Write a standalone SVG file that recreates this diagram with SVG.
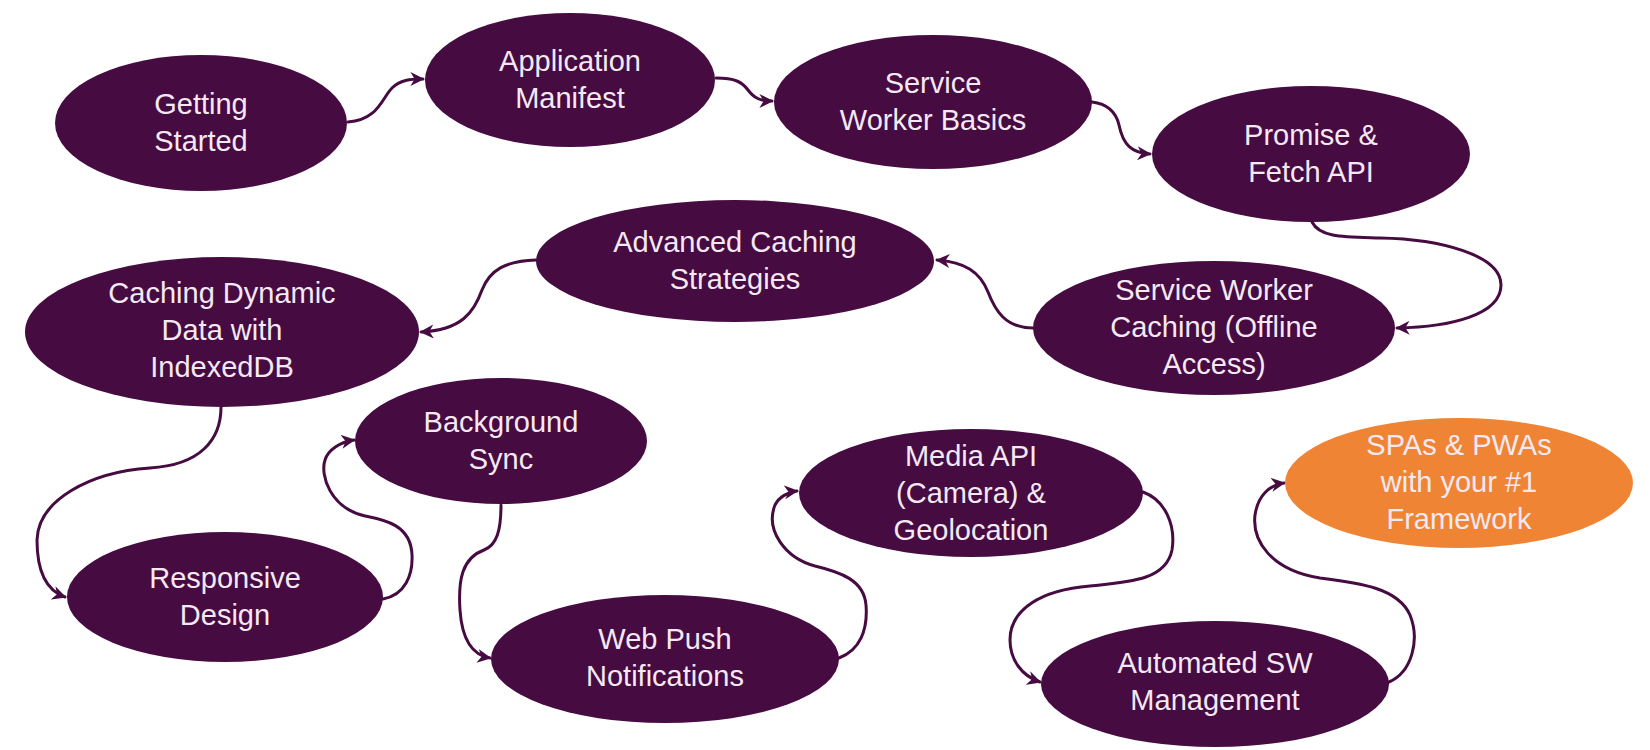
<svg xmlns="http://www.w3.org/2000/svg" width="1650" height="750" viewBox="0 0 1650 750">
<style>
.n{fill:#460b41}
.o{fill:#ef8534}
.t{font-family:"Liberation Sans",Arial,sans-serif;font-size:29px;fill:#f4e9f3;text-anchor:middle}
.c{fill:none;stroke:#460b41;stroke-width:3;stroke-linecap:round}
</style>
<defs>
<marker id="ah" viewBox="0 0 10 10" refX="9" refY="5" markerWidth="14" markerHeight="14" markerUnits="userSpaceOnUse" orient="auto">
<path d="M0,0 L10,5 L0,10 L3,5 Z" fill="#460b41"/>
</marker>
</defs>
<rect width="1650" height="750" fill="#ffffff"/>
<g id="connectors">
<path class="c" marker-end="url(#ah)" d="M348,122 C378,120 382,98 392,88 C400,80 410,79 423,79"/>
<path class="c" marker-end="url(#ah)" d="M716,78 C735,78 742,82 748,90 C754,98 760,101 772,101"/>
<path class="c" marker-end="url(#ah)" d="M1092,102 C1108,104 1116,112 1119,125 C1123,145 1132,153 1150,154"/>
<path class="c" marker-end="url(#ah)" d="M1312,222 C1320,238 1345,237 1380,238 C1440,239 1501,255 1501,285 C1501,315 1450,327 1397,328"/>
<path class="c" marker-end="url(#ah)" d="M1033,328 C1005,328 995,310 988,292 C980,272 965,262 937,260"/>
<path class="c" marker-end="url(#ah)" d="M536,260 C505,261 490,270 482,290 C474,312 462,330 421,332"/>
<path class="c" marker-end="url(#ah)" d="M221,407 C221,440 200,465 150,468 C90,472 38,500 37,540 C37,570 45,590 65,597"/>
<path class="c" marker-end="url(#ah)" d="M383,599 C405,595 413,575 412,555 C411,525 385,520 365,516 C330,508 320,475 325,460 C328,450 340,442 354,440"/>
<path class="c" marker-end="url(#ah)" d="M501,505 C501,530 497,545 484,550 C462,558 458,580 460,610 C462,640 472,655 490,658"/>
<path class="c" marker-end="url(#ah)" d="M839,658 C860,650 868,630 866,605 C864,580 840,572 815,566 C785,558 765,530 775,505 C779,497 788,492 797,491"/>
<path class="c" marker-end="url(#ah)" d="M1143,492 C1165,500 1176,525 1172,550 C1166,580 1130,582 1090,586 C1040,590 1010,610 1010,640 C1010,660 1022,676 1040,682"/>
<path class="c" marker-end="url(#ah)" d="M1389,682 C1412,672 1420,640 1410,615 C1398,588 1360,583 1320,578 C1270,570 1252,540 1255,515 C1258,495 1270,485 1284,483"/>
</g>
<g id="getting-started"><ellipse class="n" cx="201" cy="123" rx="146" ry="68"/><text class="t" x="201" y="114">Getting</text><text class="t" x="201" y="151">Started</text></g>
<g id="application-manifest"><ellipse class="n" cx="570" cy="80" rx="145" ry="67"/><text class="t" x="570" y="71">Application</text><text class="t" x="570" y="108">Manifest</text></g>
<g id="service-worker-basics"><ellipse class="n" cx="933" cy="102" rx="159" ry="67"/><text class="t" x="933" y="93">Service</text><text class="t" x="933" y="130">Worker Basics</text></g>
<g id="promise-fetch"><ellipse class="n" cx="1311" cy="154" rx="159" ry="68"/><text class="t" x="1311" y="145">Promise &amp;</text><text class="t" x="1311" y="182">Fetch API</text></g>
<g id="sw-caching"><ellipse class="n" cx="1214" cy="328" rx="181" ry="67"/><text class="t" x="1214" y="300">Service Worker</text><text class="t" x="1214" y="337">Caching (Offline</text><text class="t" x="1214" y="374">Access)</text></g>
<g id="advanced-caching"><ellipse class="n" cx="735" cy="261" rx="199" ry="61"/><text class="t" x="735" y="252">Advanced Caching</text><text class="t" x="735" y="289">Strategies</text></g>
<g id="caching-dynamic"><ellipse class="n" cx="222" cy="332" rx="197" ry="75"/><text class="t" x="222" y="303">Caching Dynamic</text><text class="t" x="222" y="340">Data with</text><text class="t" x="222" y="377">IndexedDB</text></g>
<g id="background-sync"><ellipse class="n" cx="501" cy="441" rx="146" ry="63"/><text class="t" x="501" y="432">Background</text><text class="t" x="501" y="469">Sync</text></g>
<g id="responsive-design"><ellipse class="n" cx="225" cy="597" rx="158" ry="65"/><text class="t" x="225" y="588">Responsive</text><text class="t" x="225" y="625">Design</text></g>
<g id="web-push"><ellipse class="n" cx="665" cy="659" rx="174" ry="64"/><text class="t" x="665" y="649">Web Push</text><text class="t" x="665" y="686">Notifications</text></g>
<g id="media-api"><ellipse class="n" cx="971" cy="493" rx="172" ry="64"/><text class="t" x="971" y="466">Media API</text><text class="t" x="971" y="503">(Camera) &amp;</text><text class="t" x="971" y="540">Geolocation</text></g>
<g id="automated-sw"><ellipse class="n" cx="1215" cy="684" rx="174" ry="63"/><text class="t" x="1215" y="673">Automated SW</text><text class="t" x="1215" y="710">Management</text></g>
<g id="spas-pwas"><ellipse class="o" cx="1459" cy="483" rx="174" ry="65"/><text class="t" x="1459" y="455">SPAs &amp; PWAs</text><text class="t" x="1459" y="492">with your #1</text><text class="t" x="1459" y="529">Framework</text></g>
</svg>
